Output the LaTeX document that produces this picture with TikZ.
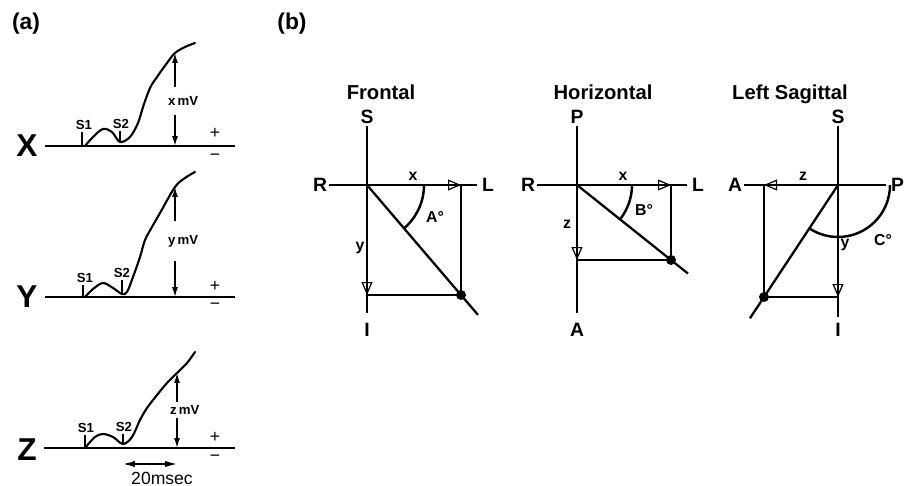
\documentclass[tikz,border=0pt]{standalone}
\usepackage{fontspec}
\setmainfont{Liberation Sans}
\usepackage{tikz}
\usetikzlibrary{arrows.meta,positioning,calc}

\begin{document}
\begin{tikzpicture}[
    x=0.02cm, y=-0.02cm,
    every node/.style={inner sep=1pt},
    panel/.style={font=\fontsize{13}{15}\selectfont\bfseries},
    lead/.style={font=\fontsize{18}{20}\selectfont\bfseries},
    title/.style={font=\fontsize{11.5}{13}\selectfont\bfseries, anchor=base},
    axislabel/.style={font=\fontsize{11}{13}\selectfont\bfseries},
    small/.style={font=\fontsize{9}{11}\selectfont\bfseries},
    tiny/.style={font=\fontsize{7.5}{9}\selectfont\bfseries},
    mvlabel/.style={font=\fontsize{7.5}{9}\selectfont\bfseries, anchor=west},
    sign/.style={font=\fontsize{10}{12}\selectfont},
    base/.style={line width=1.2pt},
    trace/.style={line width=1.2pt, line join=round, line cap=round},
    stim/.style={line width=0.9pt},
    axis/.style={line width=1.3pt},
    proj/.style={line width=0.7pt},
    comp/.style={
        -{Triangle[open, length=0.26cm, width=0.22cm, line width=0.7pt]},
        line width=1.3pt
    },
    anglearc/.style={line width=1.4pt},
    mvarrow/.style={
        -{Latex[length=0.2cm, width=0.12cm]},
        line width=0.8pt
    },
    span/.style={
        {Latex[length=0.24cm, width=0.13cm]}-{Latex[length=0.24cm, width=0.13cm]},
        line width=0.9pt
    },
    dot/.style={circle, fill, inner sep=0pt, minimum size=0.2cm}
]

\useasboundingbox (0,0) rectangle (906,486);

\node[panel] (alabel) at (26,24) {(a)};
\node[panel] (blabel) at (292,24) {(b)};

% X lead
\node[lead] (xlead) at (27,146) {X};
\coordinate (xend) at (235,146);
\coordinate (xdip) at (120,142);
\coordinate (xtop) at (175,53);
\coordinate (xfoot) at (175,146);
\draw[base] ([xshift=3pt]xlead.east) -- (xend);
\draw[trace] plot[smooth, tension=0.55] coordinates {(85,146) (93,137) (103,129) (112,132) (120,142) (130,137) (138,123) (143,107) (150,88) (157,77) (167,63) (175,53) (185,47) (195,43)};
\node[tiny] (xs1) at (84,125) {S1};
\node[tiny] (xs2) at (121,124) {S2};
\draw[stim] (xs1.south -| 82,0) -- (82,146);
\draw[stim] (xs2.south -| xdip) -- (xdip);
\node[mvlabel, inner ysep=5pt] (xmv) at (166,101) {x\,mV};
\draw[mvarrow] (xmv.north -| xtop) -- (xtop);
\draw[mvarrow] (xmv.south -| xtop) -- (xfoot);
\node[sign] (xplus) at (215,133) {+};
\node[sign] (xminus) at (215,157) {−};

% Y lead
\node[lead] (ylead) at (27,297) {Y};
\coordinate (yend) at (235,297);
\coordinate (ydip) at (122,294);
\coordinate (ytop) at (175,187);
\coordinate (yfoot) at (175,297);
\draw[base] ([xshift=3pt]ylead.east) -- (yend);
\draw[trace] plot[smooth, tension=0.55] coordinates {(85,297) (93,289) (103,283) (113,288) (122,294) (127,292) (133,277) (140,257) (145,240) (152,227) (160,213) (175,187) (185,178) (195,172)};
\node[tiny] (ys1) at (85,278) {S1};
\node[tiny] (ys2) at (122,273) {S2};
\draw[stim] (ys1.south -| 83,0) -- (83,297);
\draw[stim] (ys2.south -| ydip) -- (ydip);
\node[mvlabel, inner ysep=8pt] (ymv) at (166,241) {y\,mV};
\draw[mvarrow] (ymv.north -| ytop) -- (ytop);
\draw[mvarrow] (ymv.south -| ytop) -- (yfoot);
\node[sign] (yplus) at (215,286) {+};
\node[sign] (yminus) at (215,306) {−};

% Z lead
\node[lead] (zlead) at (27,450) {Z};
\coordinate (zend) at (235,448);
\coordinate (zdip) at (123,444);
\coordinate (ztop) at (177,373);
\coordinate (zfoot) at (177,448);
\draw[base] ([xshift=3pt]zlead.east |- zend) -- (zend);
\draw[trace] plot[smooth, tension=0.55] coordinates {(85,448) (95,437) (103,434) (113,437) (123,444) (132,437) (140,420) (147,408) (157,395) (167,383) (177,373) (187,363) (195,352)};
\node[tiny] (zs1) at (86,428) {S1};
\node[tiny] (zs2) at (124,427) {S2};
\draw[stim] (zs1.south -| 85,0) -- (85,448);
\draw[stim] (zs2.south -| zdip) -- (zdip);
\node[mvlabel, inner ysep=2pt] (zmv) at (168,410) {z\,mV};
\draw[mvarrow] (zmv.north -| ztop) -- (ztop);
\draw[mvarrow] (zmv.south -| ztop) -- (zfoot);
\node[sign] (zplus) at (215,437) {+};
\node[sign] (zminus) at (215,458) {−};

\coordinate (msleft) at (123,464);
\coordinate (msright) at (177,464);
\draw[span] (msleft) -- (msright);
\node[font=\fontsize{10}{12}\selectfont] (ms) at (162,478) {20msec};

% Frontal
\node[title] (ftitle) at (381,100) {Frontal};
\coordinate (fo) at (367,185);
\node[axislabel] (fs) at (367,117) {S};
\node[axislabel] (fi) at (367,330) {I};
\node[axislabel] (fr) at (320,185) {R};
\node[axislabel] (fl) at (488,185) {L};
\draw[axis, shorten >=0.16cm] (fs) -- (fi);
\draw[axis, shorten >=0.06cm] (fr) -- (fl);
\coordinate (fx) at (461,185);
\coordinate (fy) at (367,295);
\node[dot] (fdot) at (fx |- fy) {};
\draw[proj] (fx) -- (fdot.center) -- (fy);
\draw[comp] (fo) -- (fx);
\draw[comp] (fo) -- (fy);
\draw[axis] (fo) -- ($(fo)!1.18!(fdot)$);
\draw[anglearc] (fo) ++(57,0) arc[start angle=0, end angle=49.5, radius=57];
\node[small] (fxl) at (413,176) {x};
\node[small] (fyl) at (360,248) {y};
\node[small] (fang) at (435,217) {A°};

% Horizontal
\node[title] (htitle) at (603,100) {Horizontal};
\coordinate (ho) at (577,185);
\node[axislabel] (hp) at (577,117) {P};
\node[axislabel] (ha) at (577,330) {A};
\node[axislabel] (hr) at (528,185) {R};
\node[axislabel] (hl) at (698,185) {L};
\draw[axis, shorten >=0.16cm] (hp) -- (ha);
\draw[axis, shorten >=0.06cm] (hr) -- (hl);
\coordinate (hx) at (671,185);
\coordinate (hz) at (577,260);
\node[dot] (hdot) at (hx |- hz) {};
\draw[proj] (hx) -- (hdot.center) -- (hz);
\draw[comp] (ho) -- (hx);
\draw[comp] (ho) -- (hz);
\draw[axis] (ho) -- ($(ho)!1.18!(hdot)$);
\draw[anglearc] (ho) ++(55,0) arc[start angle=0, end angle=38.6, radius=55];
\node[small] (hxl) at (623,176) {x};
\node[small] (hzl) at (567,224) {z};
\node[small] (hang) at (644,210) {B°};

% Left sagittal
\node[title] (stitle) at (790,100) {Left Sagittal};
\coordinate (so) at (838,185);
\node[axislabel] (ss) at (838,117) {S};
\node[axislabel] (si) at (838,330) {I};
\node[axislabel] (sa) at (735,185) {A};
\node[axislabel, anchor=east] (sp) at (906,185) {P};
\draw[axis, shorten >=0.08cm] (ss) -- (si);
\draw[axis, shorten >=0.06cm] (sa) -- (sp);
\coordinate (sz) at (764,185);
\coordinate (sy) at (838,297);
\node[dot] (sdot) at (sz |- sy) {};
\draw[proj] (sz) -- (sdot.center) -- (sy);
\draw[comp] (so) -- (sz);
\draw[comp] (so) -- (sy);
\draw[axis] (so) -- ($(so)!1.19!(sdot)$);
\draw[anglearc] (so) ++(52,0) arc[start angle=0, end angle=123.5, radius=52];
\node[small] (szl) at (803,176) {z};
\node[small] (syl) at (845,245) {y};
\node[small] (sang) at (883,240) {C°};

\end{tikzpicture}
\end{document}
